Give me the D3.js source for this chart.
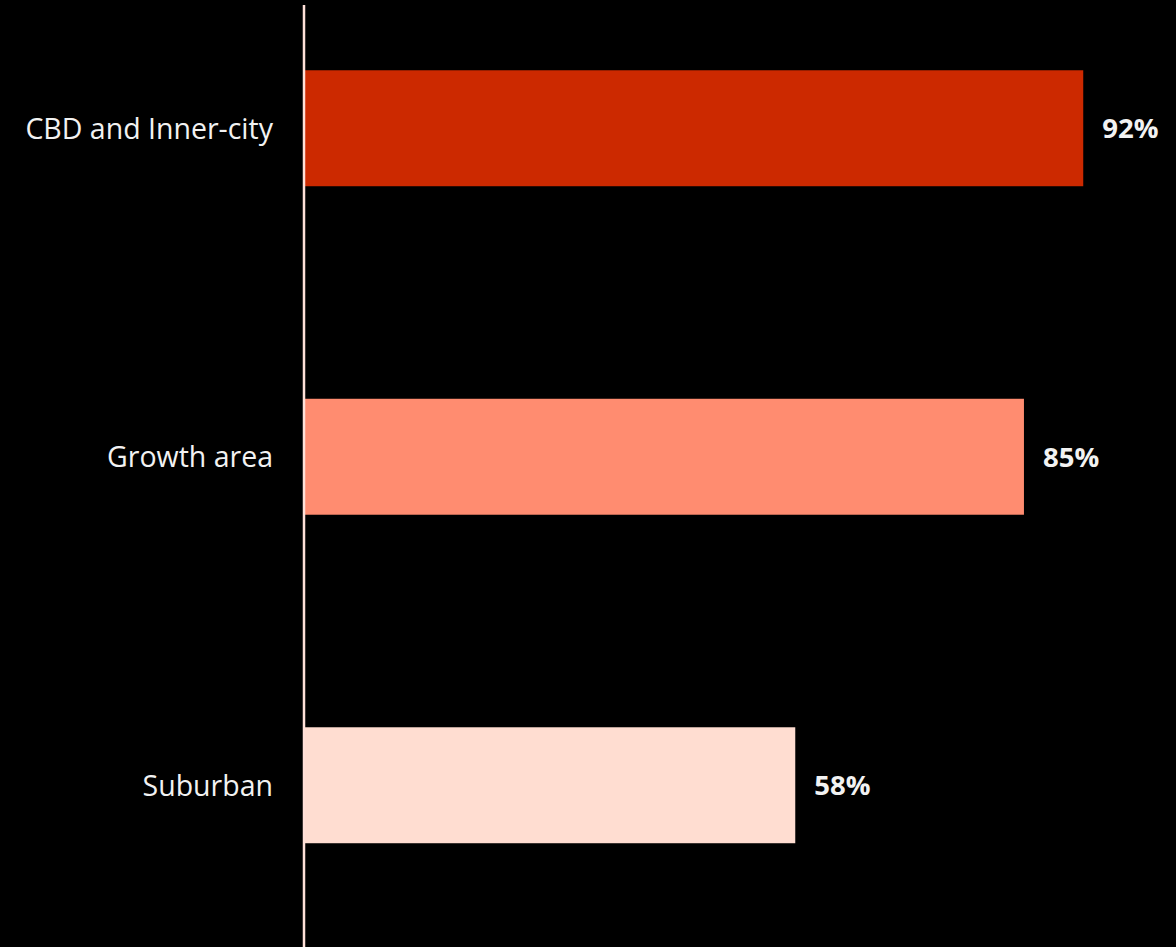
<!DOCTYPE html>
<html>
<head>
<meta charset="utf-8">
<script src="https://cdn.jsdelivr.net/npm/d3@7"></script>
<style>
  html, body { margin: 0; padding: 0; background: #000; }
  svg { display: block; }
</style>
</head>
<body>
<svg id="chart" width="1176" height="947"></svg>
<script>
// Share of respondents by area type
const categories = ["CBD and Inner-city", "Growth area", "Suburban"];
const values = [92, 85, 58];
const barColors = ["#CC2900", "#FF8C70", "#FFDDD1"];

const W = 1176, H = 947;
const x0 = 304;
const svg = d3.select("#chart");

svg.append("rect").attr("width", W).attr("height", H).attr("fill", "#000");

const x = d3.scaleLinear().domain([0, 100]).range([x0, x0 + 847]);
const y = d3.scaleBand()
  .domain(categories)
  .range([-36, 949.5])
  .paddingInner(0.647)
  .paddingOuter(0.3235);

const data = categories.map((c, i) => ({ cat: c, value: values[i], color: barColors[i] }));

svg.selectAll("rect.bar")
  .data(data)
  .join("rect")
  .attr("class", "bar")
  .attr("x", x(0))
  .attr("y", d => y(d.cat))
  .attr("width", d => x(d.value) - x(0))
  .attr("height", y.bandwidth())
  .attr("fill", d => d.color);

// Category axis line
svg.append("line")
  .attr("x1", x0).attr("x2", x0)
  .attr("y1", 5).attr("y2", H)
  .attr("stroke", "#FFE0D8")
  .attr("stroke-width", 2.5);

const font = "'Open Sans', Lato, sans-serif";

// Category labels
svg.selectAll("text.cat")
  .data(data)
  .join("text")
  .attr("class", "cat")
  .attr("x", x0 - 31)
  .attr("y", d => y(d.cat) + y.bandwidth() / 2)
  .attr("dy", "0.36em")
  .attr("text-anchor", "end")
  .attr("fill", "#F2F2F2")
  .style("font-family", font)
  .style("font-size", "28.5px")
  .text(d => d.cat);

// Value labels
svg.selectAll("text.val")
  .data(data)
  .join("text")
  .attr("class", "val")
  .attr("x", d => x(d.value) + 19)
  .attr("y", d => y(d.cat) + y.bandwidth() / 2)
  .attr("dy", "0.36em")
  .attr("fill", "#F2F2F2")
  .style("font-family", font)
  .style("font-weight", "bold")
  .style("font-size", "27.5px")
  .text(d => d.value + "%");
</script>
</body>
</html>
